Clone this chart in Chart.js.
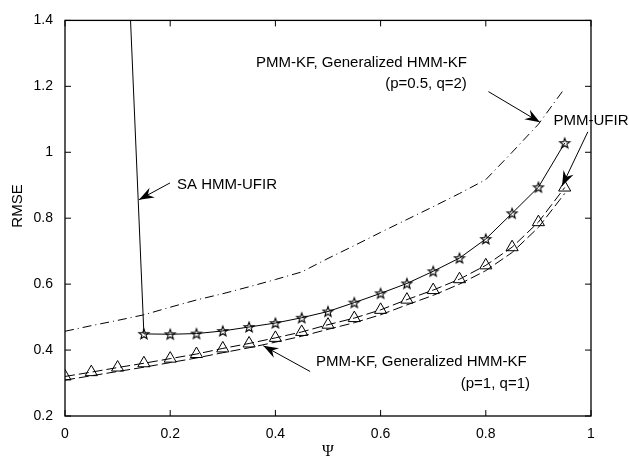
<!DOCTYPE html>
<html>
<head>
<meta charset="utf-8">
<script src="https://cdn.jsdelivr.net/npm/chart.js@4.4.1/dist/chart.umd.min.js"></script>
<style>
  html, body { margin: 0; padding: 0; background: #fff; }
</style>
</head>
<body>
<canvas id="rmseChart" width="629" height="461"></canvas>
<script>
// Psi grid used by the KF / UFIR curves
const psi = [0, 0.05, 0.1, 0.15, 0.2, 0.25, 0.3, 0.35, 0.4, 0.45, 0.5, 0.55, 0.6, 0.65, 0.7, 0.75, 0.8, 0.85, 0.9, 0.95];

// PMM-KF, Generalized HMM-KF (p=0.5, q=2) - dash dot
const kfP05Q2 = [0.457, 0.474, 0.49, 0.507, 0.53, 0.552, 0.571, 0.592, 0.614, 0.637, 0.678, 0.717, 0.757, 0.796, 0.835, 0.875, 0.917, 1.0, 1.085, 1.194];

// PMM-KF, Generalized HMM-KF (p=1, q=1) - dashed
const kfP1Q1 = [0.309, 0.322, 0.335, 0.348, 0.362, 0.376, 0.392, 0.407, 0.424, 0.442, 0.463, 0.483, 0.507, 0.537, 0.566, 0.6, 0.641, 0.696, 0.772, 0.875];

// PMM-UFIR - dashed with triangles
const pmmUfir = [0.32, 0.333, 0.347, 0.36, 0.374, 0.388, 0.405, 0.42, 0.437, 0.455, 0.477, 0.497, 0.522, 0.553, 0.582, 0.615, 0.657, 0.712, 0.788, 0.893];

// SA HMM-UFIR - solid with stars (first point is off the top)
const saPsi = [0.1, 0.15, 0.2, 0.25, 0.3, 0.35, 0.4, 0.45, 0.5, 0.55, 0.6, 0.65, 0.7, 0.75, 0.8, 0.85, 0.9, 0.95];
const saHmmUfir = [2.32, 0.449, 0.448, 0.45, 0.458, 0.47, 0.482, 0.498, 0.517, 0.544, 0.572, 0.602, 0.639, 0.679, 0.737, 0.815, 0.894, 1.028];

const xTicks = [0, 0.2, 0.4, 0.6, 0.8, 1];
const yTicks = [0.2, 0.4, 0.6, 0.8, 1, 1.2, 1.4];

// annotations (data coords): text lines and arrows
const notes = [
  { text: 'SA HMM-UFIR', x: 0.213, y: 0.901, align: 'left' },
  { text: 'PMM-KF, Generalized HMM-KF', x: 0.363, y: 1.272, align: 'left' },
  { text: '(p=0.5, q=2)', x: 0.764, y: 1.206, align: 'right' },
  { text: 'PMM-UFIR', x: 1.0, y: 1.094, align: 'center' },
  { text: 'PMM-KF, Generalized HMM-KF', x: 0.477, y: 0.363, align: 'left' },
  { text: '(p=1, q=1)', x: 0.884, y: 0.299, align: 'right' }
];
const arrows = [
  { from: [0.1996, 0.907], to: [0.1407, 0.856] },
  { from: [0.805, 1.184], to: [0.903, 1.091] },
  { from: [0.994, 1.062], to: [0.945, 0.898] },
  { from: [0.466, 0.335], to: [0.377, 0.413] }
];

const fmt = v => String(+Number(v).toFixed(1));
const pts = (xs, ys) => xs.map((x, i) => ({ x, y: ys[i] }));

function starMarker() {
  const c = document.createElement('canvas');
  c.width = 14; c.height = 14;
  const g = c.getContext('2d');
  g.strokeStyle = '#000';
  g.lineWidth = 1.1;
  g.beginPath();
  for (let i = 0; i < 10; i++) {
    const r = i % 2 ? 2.2 : 5.3;
    const a = -Math.PI / 2 + i * Math.PI / 5;
    g.lineTo(7 + r * Math.cos(a), 7.5 + r * Math.sin(a));
  }
  g.closePath();
  g.stroke();
  return c;
}

function drawArrow(ctx, x0, y0, x1, y1) {
  const a = Math.atan2(y1 - y0, x1 - x0);
  ctx.beginPath();
  ctx.moveTo(x0, y0);
  ctx.lineTo(x1, y1);
  ctx.stroke();
  ctx.save();
  ctx.translate(x1, y1);
  ctx.rotate(a);
  ctx.beginPath();
  ctx.moveTo(0, 0);
  ctx.lineTo(-15, -5.5);
  ctx.lineTo(-10, 0);
  ctx.lineTo(-15, 5.5);
  ctx.closePath();
  ctx.fill();
  ctx.restore();
}

const framePlugin = {
  id: 'frame',
  afterDraw(chart) {
    const { ctx, chartArea: a, scales } = chart;
    const sx = scales.x, sy = scales.y;
    ctx.save();
    ctx.strokeStyle = '#000';
    ctx.fillStyle = '#000';
    ctx.lineWidth = 1.3;
    ctx.strokeRect(a.left, a.top, a.right - a.left, a.bottom - a.top);
    ctx.lineWidth = 1;
    ctx.beginPath();
    xTicks.forEach(v => {
      const px = sx.getPixelForValue(v);
      ctx.moveTo(px, a.bottom); ctx.lineTo(px, a.bottom - 6);
      ctx.moveTo(px, a.top); ctx.lineTo(px, a.top + 6);
    });
    yTicks.forEach(v => {
      const py = sy.getPixelForValue(v);
      ctx.moveTo(a.left, py); ctx.lineTo(a.left + 6, py);
      ctx.moveTo(a.right, py); ctx.lineTo(a.right - 6, py);
    });
    ctx.stroke();

    // arrows
    ctx.lineWidth = 1;
    arrows.forEach(ar => {
      drawArrow(ctx,
        sx.getPixelForValue(ar.from[0]), sy.getPixelForValue(ar.from[1]),
        sx.getPixelForValue(ar.to[0]), sy.getPixelForValue(ar.to[1]));
    });

    // annotation texts
    ctx.font = '15px "Liberation Sans", Arial, sans-serif';
    ctx.textBaseline = 'middle';
    notes.forEach(n => {
      ctx.textAlign = n.align;
      ctx.fillText(n.text, sx.getPixelForValue(n.x), sy.getPixelForValue(n.y));
    });

    // axis titles
    ctx.textAlign = 'center';
    ctx.font = '16px "Liberation Serif", serif';
    ctx.fillText('\u03A8', (a.left + a.right) / 2, 452);
    ctx.save();
    ctx.translate(18, 206);
    ctx.rotate(-Math.PI / 2);
    ctx.font = '15px "Liberation Sans", Arial, sans-serif';
    ctx.fillText('RMSE', 0, 0);
    ctx.restore();
    ctx.restore();
  }
};

const tickFont = { family: '"Liberation Sans", Arial, sans-serif', size: 14 };

new Chart(document.getElementById('rmseChart'), {
  type: 'line',
  data: {
    datasets: [
      {
        label: 'PMM-KF, Generalized HMM-KF (p=0.5, q=2)',
        data: pts(psi, kfP05Q2),
        borderColor: '#000',
        borderWidth: 1,
        borderDash: [9, 4, 1, 4],
        pointRadius: 0
      },
      {
        label: 'PMM-KF, Generalized HMM-KF (p=1, q=1)',
        data: pts(psi, kfP1Q1),
        borderColor: '#000',
        borderWidth: 1,
        borderDash: [10, 4],
        pointRadius: 0
      },
      {
        label: 'PMM-UFIR',
        data: pts(psi, pmmUfir),
        borderColor: '#000',
        borderWidth: 1,
        borderDash: [10, 4],
        pointStyle: 'triangle',
        pointRadius: 7,
        pointBorderWidth: 1,
        pointBorderColor: '#000',
        pointBackgroundColor: 'rgba(0,0,0,0)'
      },
      {
        label: 'SA HMM-UFIR',
        data: pts(saPsi, saHmmUfir),
        borderColor: '#000',
        borderWidth: 1,
        pointStyle: starMarker(),
        pointRadius: 5
      }
    ]
  },
  options: {
    responsive: false,
    animation: false,
    devicePixelRatio: 1,
    layout: { padding: { left: 0, right: 38, top: 15, bottom: 0 } },
    plugins: {
      legend: { display: false },
      tooltip: { enabled: false }
    },
    scales: {
      x: {
        type: 'linear',
        min: 0,
        max: 1,
        afterFit: s => { s.height = 45; },
        grid: { display: false, drawTicks: false },
        border: { display: false },
        ticks: { stepSize: 0.2, padding: 10, color: '#000', font: tickFont, callback: fmt, maxRotation: 0 }
      },
      y: {
        min: 0.2,
        max: 1.4,
        afterFit: s => { s.width = 65; },
        grid: { display: false, drawTicks: false },
        border: { display: false },
        ticks: { stepSize: 0.2, padding: 12, color: '#000', font: tickFont, callback: fmt }
      }
    }
  },
  plugins: [framePlugin]
});
</script>
</body>
</html>
